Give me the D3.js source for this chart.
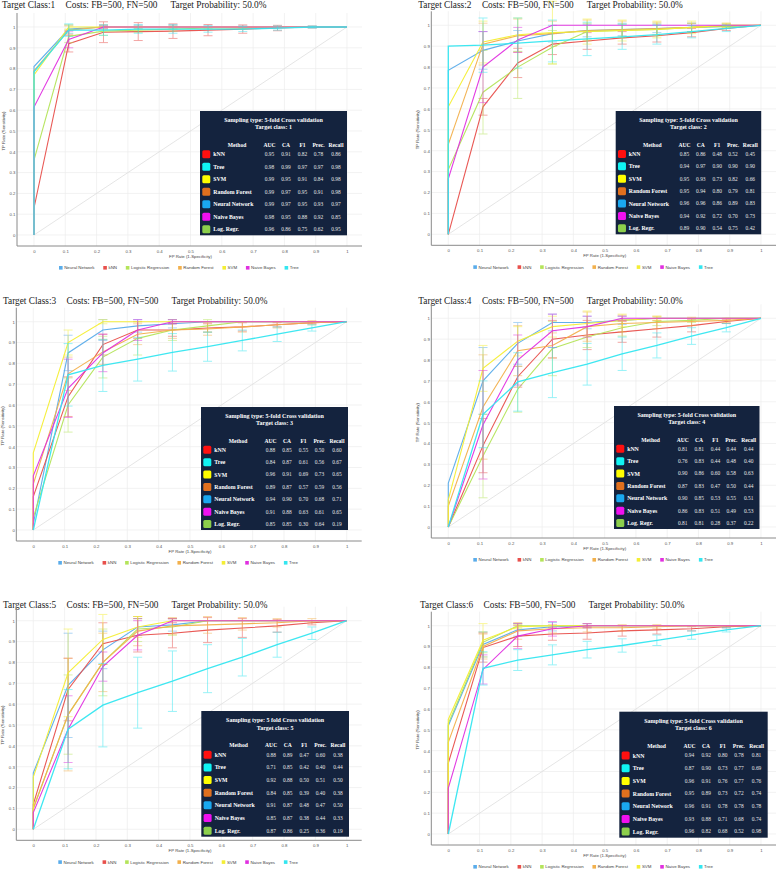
<!DOCTYPE html>
<html><head><meta charset="utf-8">
<script src="https://cdn.jsdelivr.net/npm/d3@7"></script>
<style>body{margin:0;background:#fff}svg{display:block}</style>
</head><body><svg id="c" width="778" height="871"></svg>
<script>
// ---------- DATA ----------
const methods = ["Neural Network","kNN","Logistic Regression","Random Forest","SVM","Naive Bayes","Tree"];
const lineColors = ["#5aacea","#e8504c","#b4e45a","#f2b04c","#f4ee34","#e030e0","#34e6f0"];
const fprPoints = [0, 0.111, 0.222, 0.333, 0.444, 0.556, 0.667, 0.778, 0.889, 1];
const xTicks = [0,0.1,0.2,0.3,0.4,0.5,0.6,0.7,0.8,0.9,1];
const yTicks = [0,0.1,0.2,0.3,0.4,0.5,0.6,0.7,0.8,0.9,1];
const targetClasses = ["1","2","3","4","5","6"];
const samplingLabels = ["5-fold","5-fold","5-fold","5-fold","5 fold","5-fold"];

// TP rate per method (rows in legend order), at fprPoints
const tpr1 = [
 [0.81,0.99,1,1,1,1,1,1,1,1],
 [0.13,0.92,0.975,0.978,0.98,0.985,0.99,0.995,1,1],
 [0.36,0.955,0.98,0.985,0.99,0.995,0.995,1,1,1],
 [0.79,0.985,1,1,1,1,1,1,1,1],
 [0.77,1,1,1,1,1,1,1,1,1],
 [0.615,0.94,1,1,1,1,1,1,1,1],
 [0.785,0.985,0.985,0.99,0.99,0.99,0.99,0.995,1,1]];
const err1 = [
 [0,0.02,0.01,0.01,0.01,0.005,0.005,0,0,0],
 [0,0.04,0.05,0.043,0.035,0.027,0.02,0.013,0.005,0],
 [0,0.03,0.02,0.01,0.01,0.005,0.005,0,0,0],
 [0,0.02,0.01,0.005,0.005,0,0,0,0,0],
 [0,0.01,0.005,0,0,0,0,0,0,0],
 [0,0.04,0.005,0,0,0,0,0,0,0],
 [0,0.03,0.025,0.02,0.02,0.015,0.012,0.01,0.005,0]];

const tpr2 = [
 [0.785,0.88,0.925,0.96,0.975,0.98,0.985,0.99,0.995,1],
 [0,0.61,0.82,0.91,0.925,0.94,0.95,0.965,0.985,1],
 [0.31,0.68,0.8,0.895,0.97,0.975,0.98,0.99,0.995,1],
 [0.43,0.91,0.95,0.96,0.975,0.98,0.985,0.99,1,1],
 [0.61,0.92,0.955,0.965,0.97,0.975,0.98,0.99,1,1],
 [0.265,0.8,0.93,1,1,1,1,1,1,1],
 [0.9,0.905,0.915,0.925,0.935,0.945,0.955,0.97,0.985,1]];
const err2 = [
 [0,0.09,0.05,0.04,0.03,0.03,0.02,0.02,0.01,0],
 [0,0.04,0.07,0.05,0.04,0.03,0.03,0.02,0.01,0],
 [0,0.2,0.15,0.08,0.04,0.03,0.03,0.02,0.01,0],
 [0,0.1,0.08,0.06,0.05,0.04,0.03,0.02,0.01,0],
 [0,0.1,0.08,0.15,0.06,0.05,0.04,0.03,0.01,0],
 [0,0.17,0.06,0,0,0,0,0,0,0],
 [0,0.13,0.12,0.1,0.08,0.06,0.045,0.03,0.015,0]];

const tpr3 = [
 [0.03,0.85,0.96,0.98,0.99,1,1,1,1,1],
 [0.16,0.64,0.89,0.96,0.96,0.97,0.975,0.985,0.995,1],
 [0.06,0.6,0.83,0.92,0.96,0.98,1,1,1,1],
 [0.22,0.75,0.855,0.94,0.96,0.965,0.975,0.985,0.995,1],
 [0.37,0.9,1,1,1,1,1,1,1,1],
 [0.26,0.68,0.85,0.96,1,1,1,1,1,1],
 [0,0.745,0.79,0.82,0.853,0.88,0.91,0.94,0.97,1]];
const err3 = [
 [0,0.085,0.05,0.03,0.02,0,0,0,0,0],
 [0,0.095,0.05,0.04,0.03,0.02,0.02,0.01,0.005,0],
 [0,0.13,0.1,0.08,0.05,0.03,0,0,0,0],
 [0,0.08,0.06,0.05,0.04,0.03,0.025,0.015,0.01,0],
 [0,0.06,0.01,0,0,0,0,0,0,0],
 [0,0.14,0.09,0.05,0.01,0,0,0,0,0],
 [0,0.15,0.125,0.105,0.09,0.07,0.05,0.035,0.015,0]];

const tpr4 = [
 [0.21,0.7,0.88,0.98,0.98,0.99,1,1,1,1],
 [0,0.39,0.72,0.9,0.92,0.935,0.95,0.965,0.985,1],
 [0,0.34,0.66,0.855,0.91,0.955,0.985,0.99,1,1],
 [0.1,0.575,0.845,0.87,0.96,0.975,0.98,0.985,0.99,1],
 [0.13,0.76,0.89,0.96,0.975,0.99,1,1,1,1],
 [0,0.49,0.8,0.94,0.96,1,1,1,1,1],
 [0,0.54,0.695,0.74,0.78,0.83,0.87,0.915,0.955,1]];
const err4 = [
 [0,0.16,0.1,0.04,0.03,0.02,0,0,0,0],
 [0,0.13,0.05,0.09,0.07,0.05,0.04,0.03,0.01,0],
 [0,0.2,0.11,0.13,0.05,0.04,0.02,0.01,0,0],
 [0,0.25,0.12,0.06,0.07,0.04,0.03,0.02,0.01,0],
 [0,0.11,0.07,0.05,0.06,0.03,0.01,0,0,0],
 [0,0.26,0.12,0.08,0.05,0.01,0,0,0,0],
 [0,0.16,0.14,0.12,0.1,0.08,0.06,0.04,0.02,0]];

const tpr5 = [
 [0.27,0.69,0.86,0.97,0.98,1,1,1,1,1],
 [0.12,0.67,0.89,0.93,0.94,0.955,0.965,0.975,0.99,1],
 [0.1,0.55,0.8,0.96,0.97,1,1,1,1,1],
 [0.1,0.55,0.8,0.95,0.975,0.98,0.985,0.99,1,1],
 [0.25,0.75,0.91,0.97,1,1,1,1,1,1],
 [0.08,0.48,0.78,0.93,1,1,1,1,1,1],
 [0,0.48,0.595,0.655,0.71,0.77,0.825,0.885,0.94,1]];
const err5 = [
 [0,0.25,0.09,0.04,0.03,0,0,0,0,0],
 [0,0.15,0.1,0.08,0.07,0.06,0.045,0.03,0.01,0],
 [0,0.19,0.16,0.06,0.04,0,0,0,0,0],
 [0,0.27,0.14,0.07,0.04,0.04,0.03,0.02,0.01,0],
 [0,0.21,0.12,0.05,0.01,0,0,0,0,0],
 [0,0.16,0.07,0.07,0.01,0,0,0,0,0],
 [0,0.19,0.2,0.17,0.145,0.115,0.09,0.06,0.03,0]];

const tpr6 = [
 [0.52,0.91,0.98,0.995,1,1,1,1,1,1],
 [0.34,0.895,0.95,0.96,0.965,0.975,0.98,0.985,0.995,1],
 [0.53,0.92,1,1,1,1,1,1,1,1],
 [0.44,0.9,0.975,0.985,0.99,0.99,0.995,1,1,1],
 [0.55,0.93,0.995,1,1,1,1,1,1,1],
 [0.22,0.79,0.95,0.985,1,1,1,1,1,1],
 [0,0.795,0.835,0.86,0.885,0.905,0.93,0.955,0.98,1]];
const err6 = [
 [0,0.06,0.03,0.02,0.01,0,0,0,0,0],
 [0,0.07,0.05,0.03,0.03,0.025,0.02,0.01,0.005,0],
 [0,0.05,0.01,0,0,0,0,0,0,0],
 [0,0.06,0.04,0.02,0.02,0.015,0.01,0,0,0],
 [0,0.08,0.01,0,0,0,0,0,0,0],
 [0,0.07,0.06,0.035,0.01,0,0,0,0,0],
 [0,0.08,0.05,0.048,0.04,0.032,0.025,0.02,0.01,0]];

// Tables
const tableMethods = ["kNN","Tree","SVM","Random Forest","Neural Network","Naive Bayes","Log. Regr."];
const tableColors = ["#ff1010","#10f4f4","#ffff00","#e0701e","#1aa8f0","#f010f0","#8ccf4c"];
const metricHeaders = ["Method","AUC","CA","F1","Prec.","Recall"];
const metrics1 = [[0.95,0.91,0.82,0.78,0.86],[0.98,0.99,0.97,0.97,0.98],[0.99,0.95,0.91,0.84,0.98],[0.99,0.97,0.95,0.91,0.98],[0.99,0.97,0.95,0.93,0.97],[0.98,0.95,0.88,0.92,0.85],[0.96,0.86,0.75,0.62,0.95]];
const metrics2 = [[0.85,0.86,0.48,0.52,0.45],[0.94,0.97,0.90,0.90,0.90],[0.95,0.93,0.73,0.82,0.66],[0.95,0.94,0.80,0.79,0.81],[0.96,0.96,0.86,0.89,0.83],[0.94,0.92,0.72,0.70,0.73],[0.89,0.90,0.54,0.75,0.42]];
const metrics3 = [[0.88,0.85,0.55,0.50,0.60],[0.84,0.87,0.61,0.56,0.67],[0.96,0.91,0.69,0.73,0.65],[0.89,0.87,0.57,0.59,0.56],[0.94,0.90,0.70,0.68,0.71],[0.91,0.88,0.63,0.61,0.65],[0.85,0.85,0.30,0.64,0.19]];
const metrics4 = [[0.81,0.81,0.44,0.44,0.44],[0.76,0.83,0.44,0.48,0.40],[0.90,0.86,0.60,0.58,0.63],[0.87,0.83,0.47,0.50,0.44],[0.90,0.85,0.53,0.55,0.51],[0.86,0.83,0.51,0.49,0.53],[0.81,0.81,0.28,0.37,0.22]];
const metrics5 = [[0.88,0.89,0.47,0.60,0.38],[0.71,0.85,0.42,0.40,0.44],[0.92,0.88,0.50,0.51,0.50],[0.84,0.85,0.39,0.40,0.38],[0.91,0.87,0.48,0.47,0.50],[0.85,0.87,0.38,0.44,0.33],[0.87,0.86,0.25,0.36,0.19]];
const metrics6 = [[0.94,0.92,0.80,0.78,0.81],[0.87,0.90,0.73,0.77,0.69],[0.96,0.91,0.76,0.77,0.76],[0.95,0.89,0.73,0.72,0.74],[0.96,0.91,0.78,0.78,0.78],[0.93,0.88,0.71,0.68,0.74],[0.96,0.82,0.68,0.52,0.98]];

// ---------- LAYOUT ----------
const panels = [
 {x0:34, x1:347, yT:27, yB:235, tx:2, ty:7.5, tb:[200,111,147,124.3]},
 {x0:448.3, x1:761, yT:25.3, yB:234.3, tx:418.3, ty:7.5, tb:[615.7,111,145.5,123.3]},
 {x0:33.3, x1:346.7, yT:321.7, yB:530, tx:3, ty:303.5, tb:[201,407,147,123]},
 {x0:448.3, x1:761, yT:318.3, yB:527, tx:418.3, ty:303.5, tb:[614,406,145.5,123]},
 {x0:33.3, x1:346.7, yT:620.7, yB:829.3, tx:3, ty:607.5, tb:[201.3,711,147.7,125.7]},
 {x0:448.3, x1:761, yT:625.7, yB:834, tx:420, ty:607.5, tb:[619.3,711.7,148.4,126]}
];
const tprs=[tpr1,tpr2,tpr3,tpr4,tpr5,tpr6];
const errs=[err1,err2,err3,err4,err5,err6];
const mets=[metrics1,metrics2,metrics3,metrics4,metrics5,metrics6];

const svg = d3.select("#c");
const serif = "'Liberation Serif','Times New Roman',serif";
const sans = "'Liberation Sans',Arial,sans-serif";

panels.forEach((p,pi)=>{
  const g = svg.append("g");
  const x = d3.scaleLinear().domain([0,1]).range([p.x0,p.x1]);
  const y = d3.scaleLinear().domain([0,1]).range([p.yB,p.yT]);
  const axY = p.yB + 11, axL = p.x0 - 17, axR = p.x1 + 15, axTop = p.yT - 14;

  // title
  const tg = g.append("g").attr("font-family",serif).attr("font-size",9.3).attr("fill","#222");
  tg.append("text").attr("x",p.tx).attr("y",p.ty).text("Target Class:"+targetClasses[pi]);
  tg.append("text").attr("x",p.tx+63.6).attr("y",p.ty).text("Costs: FB=500, FN=500");
  tg.append("text").attr("x",p.tx+168.5).attr("y",p.ty).text("Target Probability: 50.0%");

  // grid
  g.append("g").selectAll("line").data(xTicks).join("line")
    .attr("x1",d=>x(d)).attr("x2",d=>x(d)).attr("y1",axTop).attr("y2",axY)
    .attr("stroke","#ececec").attr("stroke-width",0.7);
  g.append("g").selectAll("line").data(yTicks).join("line")
    .attr("x1",axL).attr("x2",axR).attr("y1",d=>y(d)).attr("y2",d=>y(d))
    .attr("stroke","#ececec").attr("stroke-width",0.7);

  // axes
  const xa = g.append("g").attr("transform",`translate(0,${axY})`)
    .call(d3.axisBottom(x).tickValues(xTicks).tickSize(0).tickPadding(4).tickFormat(d=>String(d)));
  xa.select(".domain").remove();
  xa.selectAll("text").attr("font-size",4.3).attr("font-family",sans).attr("fill","#555");
  const ya = g.append("g").attr("transform",`translate(${axL},0)`)
    .call(d3.axisLeft(y).tickValues(yTicks).tickSize(0).tickPadding(1.5).tickFormat(d=>String(d)));
  ya.select(".domain").remove();
  ya.selectAll("text").attr("font-size",4.3).attr("font-family",sans).attr("fill","#555");
  g.append("line").attr("x1",axL).attr("x2",axL).attr("y1",axTop).attr("y2",axY).attr("stroke","#8a8a8a").attr("stroke-width",1);
  g.append("line").attr("x1",axL).attr("x2",axR).attr("y1",axY).attr("y2",axY).attr("stroke","#8a8a8a").attr("stroke-width",1);

  g.append("text").attr("x",(p.x0+p.x1)/2).attr("y",axY+12).attr("text-anchor","middle")
    .attr("font-size",4.3).attr("font-family",sans).attr("fill","#444").text("FP Rate (1-Specificity)");
  g.append("text").attr("transform",`translate(${p.x0-29},${(p.yT+p.yB)/2}) rotate(-90)`).attr("text-anchor","middle")
    .attr("font-size",4.3).attr("font-family",sans).attr("fill","#444").text("TP Rate (Sensitivity)");

  // diagonal
  g.append("line").attr("x1",x(0)).attr("y1",y(0)).attr("x2",x(1)).attr("y2",y(1))
    .attr("stroke","#dedede").attr("stroke-width",0.8);

  // series
  const line = d3.line().x(d=>x(d[0])).y(d=>y(d[1]));
  const tp = tprs[pi], er = errs[pi];
  tp.forEach((vals,si)=>{
    const pts = [[0,0]].concat(vals.map((v,k)=>[fprPoints[k],v]));
    const c = lineColors[si];
    const eg = g.append("g").attr("stroke",c).attr("stroke-width",0.9).attr("opacity",0.55);
    vals.forEach((v,k)=>{
      const e = er[si][k];
      if(!e) return;
      const cx = x(fprPoints[k]);
      eg.append("line").attr("x1",cx).attr("x2",cx).attr("y1",y(v-e)).attr("y2",y(v+e));
      eg.append("line").attr("x1",cx-4.5).attr("x2",cx+4.5).attr("y1",y(v-e)).attr("y2",y(v-e));
      eg.append("line").attr("x1",cx-4.5).attr("x2",cx+4.5).attr("y1",y(v+e)).attr("y2",y(v+e));
    });
    g.append("path").datum(pts).attr("d",line).attr("fill","none").attr("stroke",c)
      .attr("stroke-width", si===6?1.3:1.1).attr("opacity",0.95);
  });

  // legend
  const lg = g.append("g").attr("font-family",sans).attr("font-size",4.4).attr("fill","#444");
  let lx = p.x0 + 25; const ly = axY + 22;
  methods.forEach((m,i)=>{
    lg.append("rect").attr("x",lx).attr("y",ly-2).attr("width",3.6).attr("height",3.6).attr("fill",lineColors[i]);
    const t = lg.append("text").attr("x",lx+5.2).attr("y",ly+1.4).text(m);
    lx += 5.2 + t.node().getComputedTextLength() + 8.8;
  });

  // table
  const [bx,by,bw,bh] = p.tb;
  const sx = bw/147, sy = bh/124.3;
  const tb = g.append("g").attr("transform",`translate(${bx},${by})`).attr("font-family",serif);
  tb.append("rect").attr("width",bw).attr("height",bh).attr("fill","#14233e");
  tb.append("text").attr("x",bw/2).attr("y",9*sy).attr("dy","0.35em").attr("text-anchor","middle")
    .attr("font-size",6).attr("font-weight","bold").attr("fill","#fff")
    .text("Sampling type: "+samplingLabels[pi]+" Cross validation");
  tb.append("text").attr("x",bw/2).attr("y",16.3*sy).attr("dy","0.35em").attr("text-anchor","middle")
    .attr("font-size",6).attr("font-weight","bold").attr("fill","#fff")
    .text("Target class: "+targetClasses[pi]);
  const colX = [37,69.5,86,102.5,118.5,136];
  metricHeaders.forEach((h,i)=>{
    tb.append("text").attr("x",colX[i]*sx).attr("y",34*sy).attr("dy","0.35em").attr("text-anchor","middle")
      .attr("font-size",5.6).attr("font-weight","bold").attr("fill","#fff").text(h);
  });
  const M = mets[pi];
  tableMethods.forEach((m,r)=>{
    const ry = (43.3 + r*12.5)*sy;
    tb.append("rect").attr("x",2.3*sx).attr("y",ry-4).attr("width",8).attr("height",8).attr("rx",1.5)
      .attr("fill",tableColors[r]);
    tb.append("text").attr("x",13.3*sx).attr("y",ry).attr("dy","0.35em").attr("font-size",5.8)
      .attr("font-weight","bold").attr("fill","#fff").text(m);
    M[r].forEach((v,c)=>{
      tb.append("text").attr("x",colX[c+1]*sx).attr("y",ry).attr("dy","0.35em").attr("text-anchor","middle")
        .attr("font-size",5.4).attr("fill","#e6e6e6").text(v.toFixed(2));
    });
  });
});
</script></body></html>
